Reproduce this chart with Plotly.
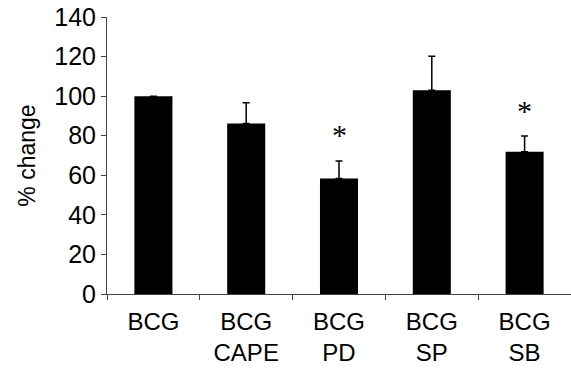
import plotly.graph_objects as go

categories = ["BCG", "BCG<br>CAPE", "BCG<br>PD", "BCG<br>SP", "BCG<br>SB"]
values = [100, 86.2, 58.4, 103, 71.9]
errors = [None, 10.4, 8.8, 17.2, 7.9]
significant = [False, False, True, False, True]
star_values = [None, None, 80, None, 92]

fig = go.Figure()
fig.add_trace(go.Bar(
    x=categories, y=values,
    marker=dict(color="black", line=dict(width=0)),
    width=0.41,
    error_y=dict(type="data", array=errors, arrayminus=[0]*len(errors), symmetric=False,
                 color="black", thickness=1.5, width=3.5),
))

for cat, sig, sv in zip(categories, significant, star_values):
    if sig:
        fig.add_annotation(x=cat, y=sv, text="*", showarrow=False,
                           font=dict(family="Liberation Serif", size=30, color="black"),
                           yanchor="middle", yshift=1)

fig.update_layout(
    width=571, height=370,
    margin=dict(l=107, r=0, t=17, b=76, autoexpand=False),
    plot_bgcolor="white", paper_bgcolor="white",
    font=dict(family="Liberation Sans", size=24, color="black"),
    showlegend=False,
)
fig.update_xaxes(
    showline=True, linecolor="#444", linewidth=1,
    ticks="outside", tickson="boundaries", ticklen=5, tickcolor="#444",
    showgrid=False, zeroline=False, automargin=False,
    tickfont=dict(size=24), ticklabelstandoff=6, ticklabeloverflow="allow",
)
fig.update_yaxes(
    range=[0, 140], tickvals=[0, 20, 40, 60, 80, 100, 120, 140],
    showline=True, linecolor="#444", linewidth=1,
    ticks="outside", ticklen=5, tickcolor="#444",
    showgrid=False, zeroline=False, automargin=False,
    title=dict(text="% change", font=dict(size=23), standoff=12),
    tickfont=dict(size=25), ticklabeloverflow="allow",
)

fig.write_html("out.html", config={"displayModeBar": False},
               post_script="document.body.style.margin='0';")
